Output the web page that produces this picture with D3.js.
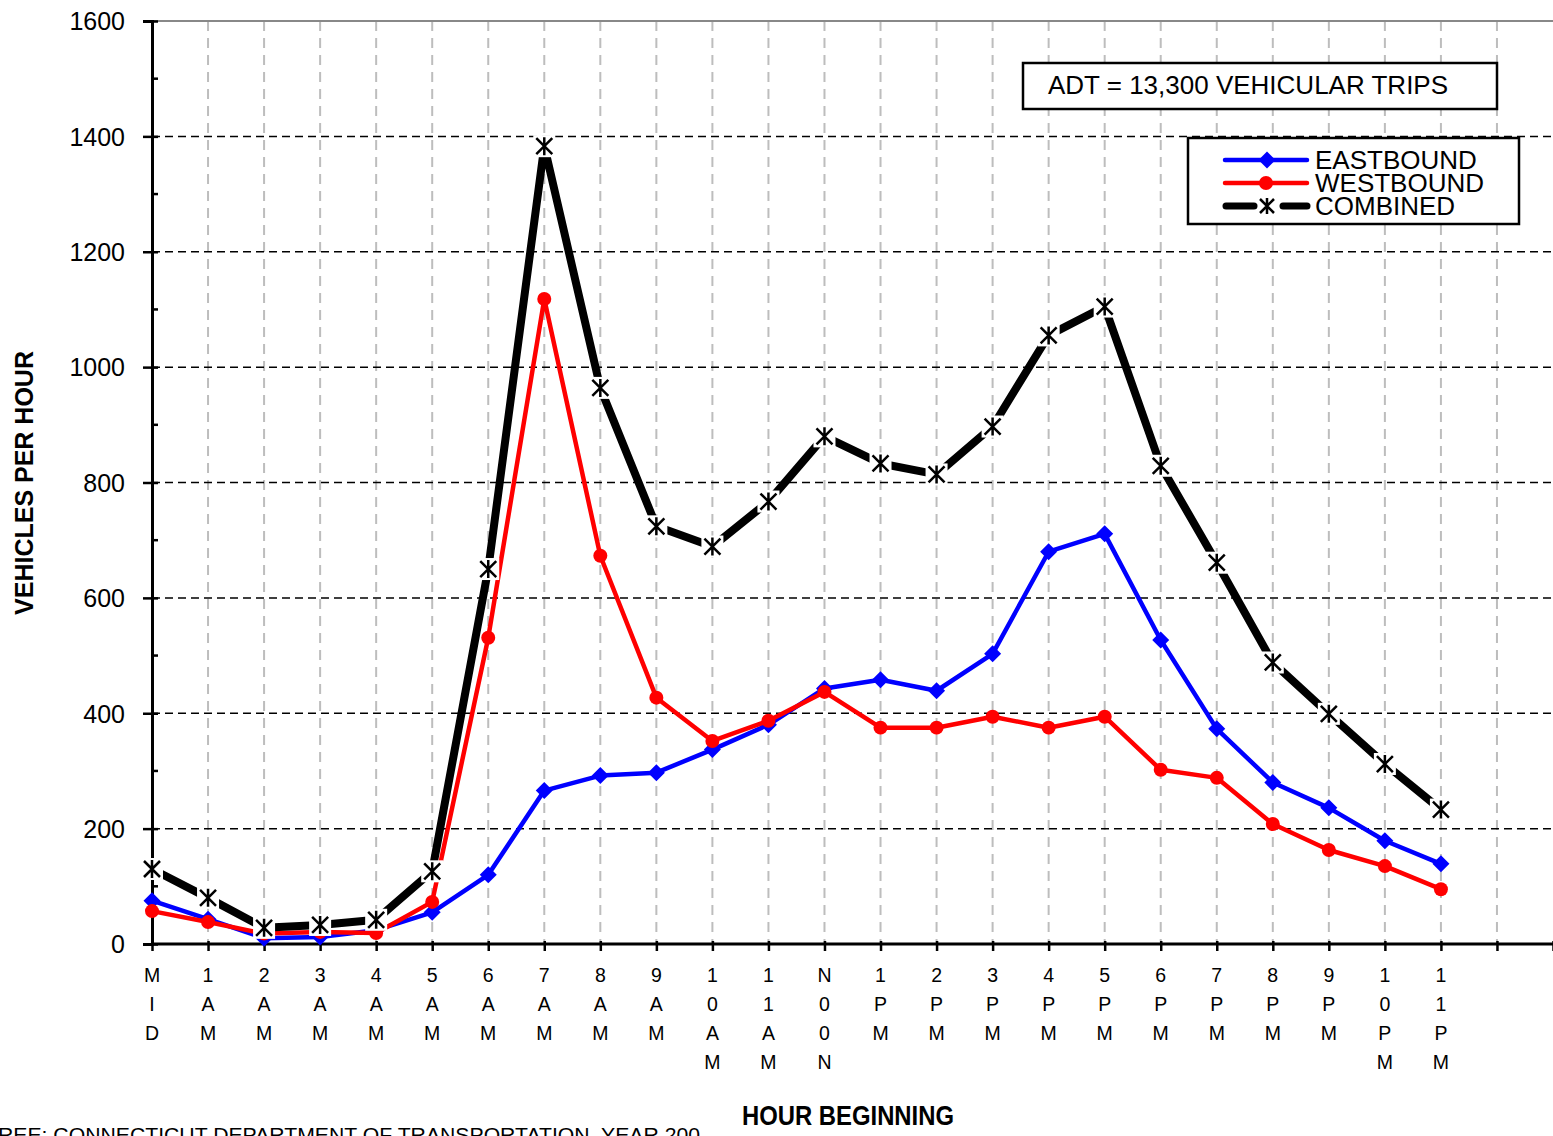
<!DOCTYPE html>
<html><head><meta charset="utf-8">
<script src="https://cdn.jsdelivr.net/npm/d3@7"></script>
<style>html,body{margin:0;padding:0;background:#fff;overflow:hidden}</style>
</head><body>
<svg id="c" width="1553" height="1136"></svg>
<script>
const hours = ["MID","1AM","2AM","3AM","4AM","5AM","6AM","7AM","8AM","9AM","10AM","11AM","N00N","1PM","2PM","3PM","4PM","5PM","6PM","7PM","8PM","9PM","10PM","11PM"];
const eastbound = [75,43,10,12,24,55,120,266,292,297,337,380,443,458,439,503,680,711,527,373,280,236,179,139];
const westbound = [57,38,18,21,19,73,531,1118,673,427,352,387,437,375,375,394,375,394,302,288,208,163,135,95];
const combined  = [130,80,28,33,42,126,650,1383,964,724,689,767,880,833,814,897,1055,1105,829,661,488,399,312,233];
const yTicks = [0,200,400,600,800,1000,1200,1400,1600];
const seriesNames = ["EASTBOUND","WESTBOUND","COMBINED"];
const adtLabel = "ADT = 13,300 VEHICULAR TRIPS";
const yTitle = "VEHICLES PER HOUR";
const xTitle = "HOUR BEGINNING";
const sourceText = "REE: CONNECTICUT DEPARTMENT OF TRANSPORTATION, YEAR 200";

const svg = d3.select("#c");
const F = "'Liberation Sans', Arial, sans-serif";
const x = d3.scaleLinear().domain([0,25]).range([152,1553]);
const y = d3.scaleLinear().domain([0,1600]).range([944,21]);

// vertical grid
const g = svg.append("g");
g.selectAll(".vg").data(d3.range(1,25)).join("line")
  .attr("x1",d=>x(d)).attr("x2",d=>x(d)).attr("y1",y(1600)).attr("y2",y(0))
  .attr("stroke","#bdbdbd").attr("stroke-width",2).attr("stroke-dasharray","10,7");
// horizontal grid
g.selectAll(".hg").data(yTicks.filter(v=>v>0&&v<1600)).join("line")
  .attr("x1",x(0)).attr("x2",x(25)).attr("y1",d=>y(d)).attr("y2",d=>y(d))
  .attr("stroke","#000").attr("stroke-width",1.5).attr("stroke-dasharray","8,5");
// top border
g.append("line").attr("x1",x(0)).attr("x2",x(25)).attr("y1",y(1600)).attr("y2",y(1600))
  .attr("stroke","#888").attr("stroke-width",2);

// y axis
const yAxis = d3.axisLeft(y).tickValues(yTicks).tickSize(9).tickPadding(18).tickFormat(d3.format("d"));
const ya = svg.append("g").attr("transform",`translate(${x(0)},0)`).call(yAxis);
ya.select(".domain").attr("stroke","#000").attr("stroke-width",3);
ya.selectAll(".tick line").attr("stroke-width",2.5).attr("x2",-9).attr("x1",6);
ya.selectAll(".tick text").attr("font-family",F).attr("font-size",25).attr("fill","#000").attr("dy","0.35em");
// minor ticks
svg.append("g").selectAll("line").data(d3.range(100,1600,200)).join("line")
  .attr("x1",x(0)).attr("x2",x(0)+6).attr("y1",d=>y(d)).attr("y2",d=>y(d))
  .attr("stroke","#000").attr("stroke-width",2.5);

// x axis
const xAxis = d3.axisBottom(x).tickValues(d3.range(0,26)).tickSize(7).tickFormat("");
const xa = svg.append("g").attr("transform",`translate(0,${y(0)})`).call(xAxis);
xa.select(".domain").attr("stroke","#000").attr("stroke-width",3).attr("d",`M${x(0)},0H${x(25)}`);
xa.selectAll(".tick line").attr("stroke-width",2.5).attr("y1",-3);
// stacked tick labels
const lab = svg.append("g");
hours.forEach((h,i)=>{
  const t = lab.append("text").attr("font-family",F).attr("font-size",19.5).attr("text-anchor","middle");
  h.split("").forEach((ch,k)=>{
    t.append("tspan").attr("x",x(i)).attr("y",982+k*29).text(ch);
  });
});

// titles
svg.append("text").attr("transform","translate(33,483) rotate(-90)")
  .attr("text-anchor","middle").attr("font-family",F).attr("font-weight","bold").attr("font-size",25)
  .text(yTitle);
svg.append("text").attr("x",742).attr("y",1125).attr("font-family",F).attr("font-weight","bold")
  .attr("font-size",28).attr("textLength",212).attr("lengthAdjust","spacingAndGlyphs").text(xTitle);
svg.append("text").attr("x",-2).attr("y",1142).attr("font-family",F).attr("font-size",21)
  .attr("textLength",702).attr("lengthAdjust","spacingAndGlyphs").text(sourceText);

// series
const line = d3.line().x((d,i)=>x(i)).y(d=>y(d));
const diamond = s => `M0,${-s}L${s},0L0,${s}L${-s},0Z`;
const star = s => `M${-s},${-s}L${s},${s}M${s},${-s}L${-s},${s}M0,${-s-1}L0,${s+1}`;

svg.append("path").datum(eastbound).attr("d",line).attr("fill","none").attr("stroke","#0000ff").attr("stroke-width",4.5).attr("stroke-linejoin","round");
svg.append("g").selectAll("path").data(eastbound).join("path")
  .attr("transform",(d,i)=>`translate(${x(i)},${y(d)})`).attr("d",diamond(8.5)).attr("fill","#0000ff");

svg.append("path").datum(westbound).attr("d",line).attr("fill","none").attr("stroke","#ff0000").attr("stroke-width",4.5).attr("stroke-linejoin","round");
svg.append("g").selectAll("circle").data(westbound).join("circle")
  .attr("cx",(d,i)=>x(i)).attr("cy",d=>y(d)).attr("r",7).attr("fill","#ff0000");

svg.append("path").datum(combined).attr("d",line).attr("fill","none").attr("stroke","#000").attr("stroke-width",8).attr("stroke-linejoin","round");
svg.append("g").selectAll("rect").data(combined).join("rect")
  .attr("x",(d,i)=>x(i)-11).attr("y",d=>y(d)-11).attr("width",22).attr("height",22).attr("fill","#fff");
svg.append("g").selectAll("path").data(combined).join("path")
  .attr("transform",(d,i)=>`translate(${x(i)},${y(d)})`).attr("d",star(8)).attr("fill","none")
  .attr("stroke","#000").attr("stroke-width",2.5);

// ADT box
svg.append("rect").attr("x",1023).attr("y",63).attr("width",474).attr("height",46)
  .attr("fill","#fff").attr("stroke","#000").attr("stroke-width",2.5);
svg.append("text").attr("x",1048).attr("y",94).attr("font-family",F).attr("font-size",26).text(adtLabel);

// legend
const lg = svg.append("g");
lg.append("rect").attr("x",1188).attr("y",138).attr("width",331).attr("height",86)
  .attr("fill","#fff").attr("stroke","#000").attr("stroke-width",2.5);
const ly = [160,183,206];
lg.append("line").attr("x1",1225).attr("x2",1307).attr("y1",ly[0]).attr("y2",ly[0]).attr("stroke","#0000ff").attr("stroke-width",4.5).attr("stroke-linecap","round");
lg.append("path").attr("transform",`translate(1267,${ly[0]})`).attr("d",diamond(8.5)).attr("fill","#0000ff");
lg.append("line").attr("x1",1225).attr("x2",1307).attr("y1",ly[1]).attr("y2",ly[1]).attr("stroke","#ff0000").attr("stroke-width",4.5).attr("stroke-linecap","round");
lg.append("circle").attr("cx",1266).attr("cy",ly[1]).attr("r",7).attr("fill","#ff0000");
lg.append("line").attr("x1",1226).attr("x2",1254).attr("y1",ly[2]).attr("y2",ly[2]).attr("stroke","#000").attr("stroke-width",7).attr("stroke-linecap","round");
lg.append("line").attr("x1",1283).attr("x2",1307).attr("y1",ly[2]).attr("y2",ly[2]).attr("stroke","#000").attr("stroke-width",7).attr("stroke-linecap","round");
lg.append("path").attr("transform",`translate(1267,${ly[2]})`).attr("d",star(7)).attr("fill","none").attr("stroke","#000").attr("stroke-width",2.5);
seriesNames.forEach((n,i)=>{
  lg.append("text").attr("x",1315).attr("y",ly[i]+9).attr("font-family",F).attr("font-size",26).text(n);
});
</script>
</body></html>
